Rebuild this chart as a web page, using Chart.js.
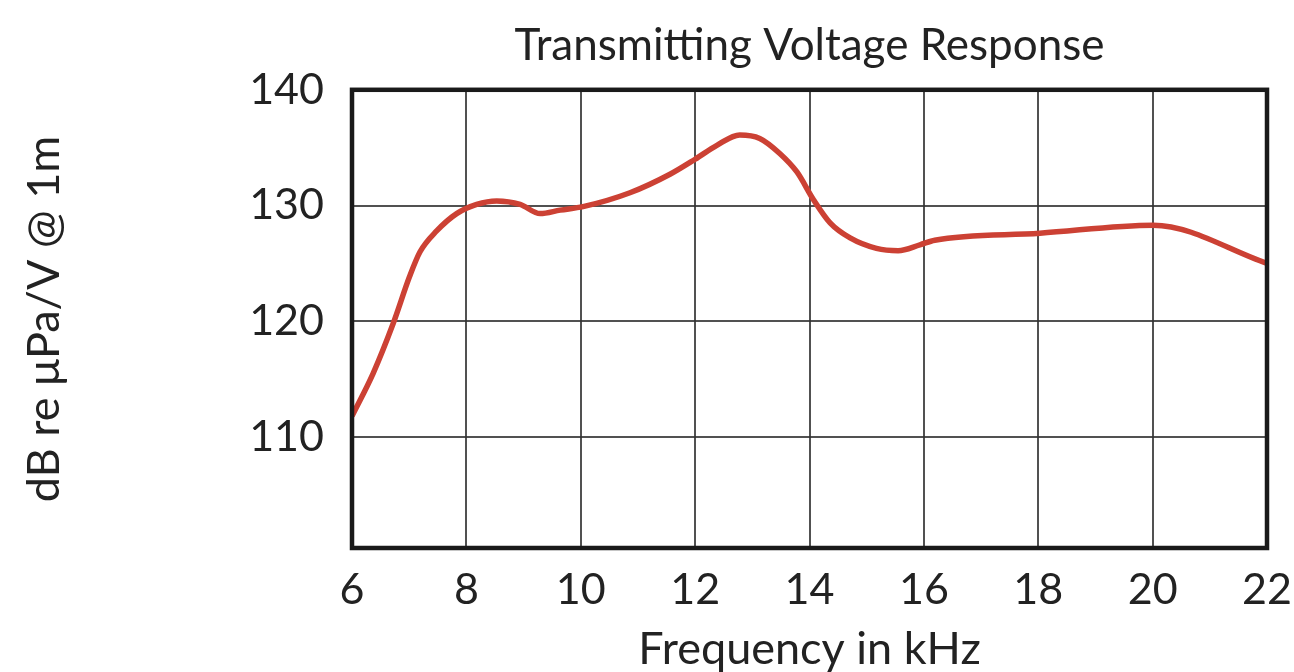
<!DOCTYPE html>
<html lang="en">
<head>
    <meta charset="UTF-8">
    <title>Transmitting Voltage Response</title>
    <style>
        html, body {
            margin: 0;
            padding: 0;
            background: #ffffff;
        }

        .chart-box {
            width: 1294px;
            height: 672px;
        }
    </style>
</head>
<body>
    <div class="chart-box">
        <canvas id="tvrChart"></canvas>
    </div>

    <script src="https://cdn.jsdelivr.net/npm/chart.js"></script>
    <script>
        // values
        const freqKHz = [6.0, 6.37, 6.72, 7.01, 7.19, 7.48, 7.83, 8.18, 8.53, 8.94, 9.29, 9.64, 10.04, 10.86, 11.56, 12.0, 12.38, 12.78, 13.13, 13.48, 13.78, 14.07, 14.36, 14.71, 15.17, 15.55, 15.93, 16.19, 18.03, 20.01, 22.0];
        const tvrDb = [111.8, 115.5, 119.8, 123.9, 126.0, 127.8, 129.3, 130.1, 130.4, 130.1, 129.3, 129.6, 129.9, 131.1, 132.7, 134.0, 135.2, 136.1, 135.8, 134.5, 132.9, 130.5, 128.5, 127.2, 126.3, 126.1, 126.6, 127.0, 127.6, 128.3, 125.0];
        const yTickValues = [110, 120, 130, 140];

        const textFont = "Lato, 'Open Sans', sans-serif";
        const textColor = '#222';
        const gridColor = 'rgba(50, 50, 50, 0.85)';

        // heavy frame round the plot area
        const frameBox = {
            id: 'frameBox',
            afterDraw(chart) {
                const { ctx, chartArea: a } = chart;
                ctx.save();
                ctx.strokeStyle = '#1a1a1a';
                ctx.lineWidth = 4.5;
                ctx.strokeRect(a.left, a.top, a.right - a.left, a.bottom - a.top);
                ctx.restore();
            }
        };

        const ctx = document.getElementById('tvrChart').getContext('2d');
        new Chart(ctx, {
            type: 'line',
            data: {
                datasets: [{
                    label: 'TVR',
                    data: freqKHz.map((f, i) => ({ x: f, y: tvrDb[i] })),
                    borderColor: '#cc4134',
                    borderWidth: 5.5,
                    pointRadius: 0,
                    cubicInterpolationMode: 'monotone',
                    fill: false
                }]
            },
            options: {
                responsive: true,
                maintainAspectRatio: false,
                animation: false,
                devicePixelRatio: 1,
                layout: {
                    padding: { left: 0, right: 27, top: 0, bottom: 0 }
                },
                plugins: {
                    legend: { display: false },
                    tooltip: { enabled: false },
                    title: {
                        display: true,
                        fullSize: false,
                        text: 'Transmitting Voltage Response',
                        color: textColor,
                        font: { family: textFont, size: 44, weight: 'normal', lineHeight: 1.2 },
                        padding: { top: 19, bottom: 18 }
                    }
                },
                scales: {
                    x: {
                        type: 'linear',
                        min: 6,
                        max: 22,
                        ticks: {
                            stepSize: 2,
                            color: textColor,
                            padding: 16,
                            font: { family: textFont, size: 43 }
                        },
                        grid: { color: gridColor, lineWidth: 2, drawTicks: false },
                        border: { display: false },
                        title: {
                            display: true,
                            text: 'Frequency in kHz',
                            color: textColor,
                            font: { family: textFont, size: 45, lineHeight: 1.0 },
                            padding: { top: 0, bottom: 0 }
                        },
                        afterFit(scale) {
                            scale.height = 124;
                            scale.paddingLeft = 0;
                            scale.paddingRight = 0;
                        }
                    },
                    y: {
                        min: 100.4,
                        max: 140,
                        afterBuildTicks(scale) {
                            scale.ticks = yTickValues.map(v => ({ value: v }));
                        },
                        ticks: {
                            color: textColor,
                            padding: 28,
                            font: { family: textFont, size: 43 }
                        },
                        grid: { color: gridColor, lineWidth: 2, drawTicks: false },
                        border: { display: false },
                        title: {
                            display: true,
                            text: 'dB re μPa/V @ 1m',
                            color: textColor,
                            font: { family: textFont, size: 45, lineHeight: 1.0 },
                            padding: { top: 22, bottom: 0 }
                        },
                        afterFit(scale) {
                            scale.width = 352;
                            scale.paddingTop = 0;
                            scale.paddingBottom = 0;
                        }
                    }
                }
            },
            plugins: [frameBox]
        });
    </script>
</body>
</html>
